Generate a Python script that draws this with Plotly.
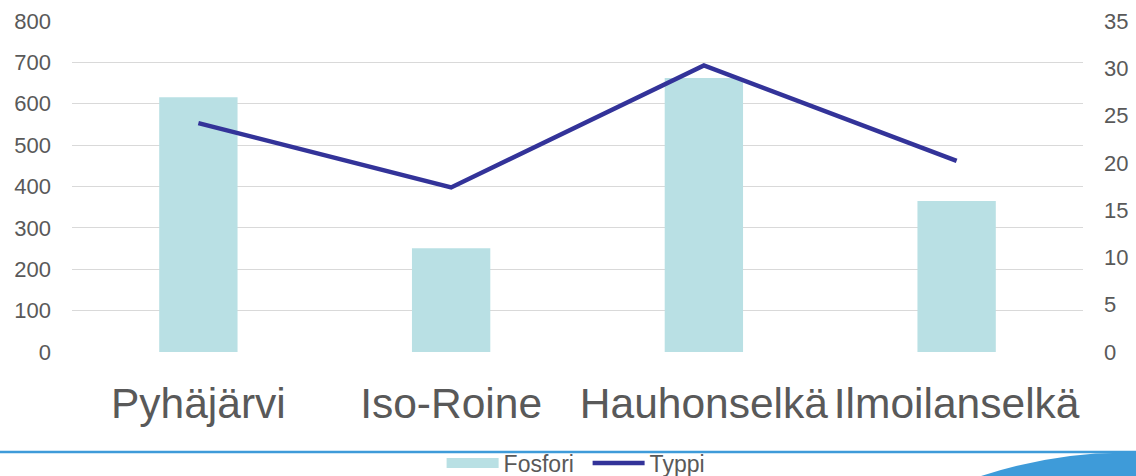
import plotly.graph_objects as go

categories = ["Pyhäjärvi", "Iso-Roine", "Hauhonselkä", "Ilmoilanselkä"]
fosfori = [616, 251, 662, 365]
typpi = [24.2, 17.4, 30.3, 20.2]
left_ticks = [0, 100, 200, 300, 400, 500, 600, 700, 800]
right_ticks = [0, 5, 10, 15, 20, 25, 30, 35]

W, H = 1136, 476
L, R, T, B = 72, 53, 21, 124
pw, ph = W - L - R, H - T - B

def px(x):
    return (x - L) / pw

def py(y):
    return (H - B - y) / ph

font = "Liberation Sans, Arial, sans-serif"
grey = "#595959"
bar_color = "#B9E0E4"

fig = go.Figure()
fig.add_trace(go.Bar(x=categories, y=fosfori, name="Fosfori",
                     marker=dict(color=bar_color, line=dict(width=0)),
                     yaxis="y", showlegend=False))
# legend proxy to get a wide rectangular swatch
fig.add_trace(go.Scatter(x=[None], y=[None], name="Fosfori", mode="lines",
                         line=dict(color=bar_color, width=13), yaxis="y"))
fig.add_trace(go.Scatter(x=categories, y=typpi, name="Typpi", mode="lines",
                         line=dict(color="#333399", width=4.5),
                         yaxis="y2"))

fig.update_layout(
    width=W, height=H,
    margin=dict(l=L, r=R, t=T, b=B, autoexpand=False),
    paper_bgcolor="white", plot_bgcolor="white",
    font=dict(family=font, color=grey, size=22),
    bargap=0.69,
    showlegend=True,
    legend=dict(orientation="h", x=0.51, xanchor="center", y=py(463), yanchor="middle",
                font=dict(size=23, color=grey), itemwidth=52, tracegroupgap=0,
                entrywidth=79, entrywidthmode="pixels",
                bgcolor="rgba(0,0,0,0)"),
    xaxis=dict(showgrid=False, showline=False, ticks="", zeroline=False, automargin=False,
               tickfont=dict(size=42.5, color=grey), ticklabelstandoff=22),
    yaxis=dict(range=[0, 800], tickvals=left_ticks, showgrid=True, gridcolor="#D9D9D9",
               gridwidth=1.2, zeroline=False, showline=False, ticks="", automargin=False,
               tickfont=dict(size=22, color=grey), ticklabelstandoff=20),
    yaxis2=dict(range=[0, 35], tickvals=right_ticks, overlaying="y", side="right",
                showgrid=False, zeroline=False, showline=False, ticks="", automargin=False,
                tickfont=dict(size=22, color=grey), ticklabelstandoff=20),
    shapes=[
        dict(type="line", xref="paper", yref="paper", x0=px(-5), x1=px(W + 5),
             y0=py(452), y1=py(452), line=dict(color="#3E9BD9", width=2.5), layer="above"),
        dict(type="path", xref="paper", yref="paper",
             path=f"M {px(978)},{py(477)} Q {px(1060)},{py(450)} {px(1137)},{py(453)} "
                  f"L {px(1137)},{py(477)} Z",
             fillcolor="#3E9BD9", line=dict(width=0), layer="above"),
    ],
)

fig.write_html("out.html", config={"displayModeBar": False},
               post_script="document.body.style.margin='0';")
